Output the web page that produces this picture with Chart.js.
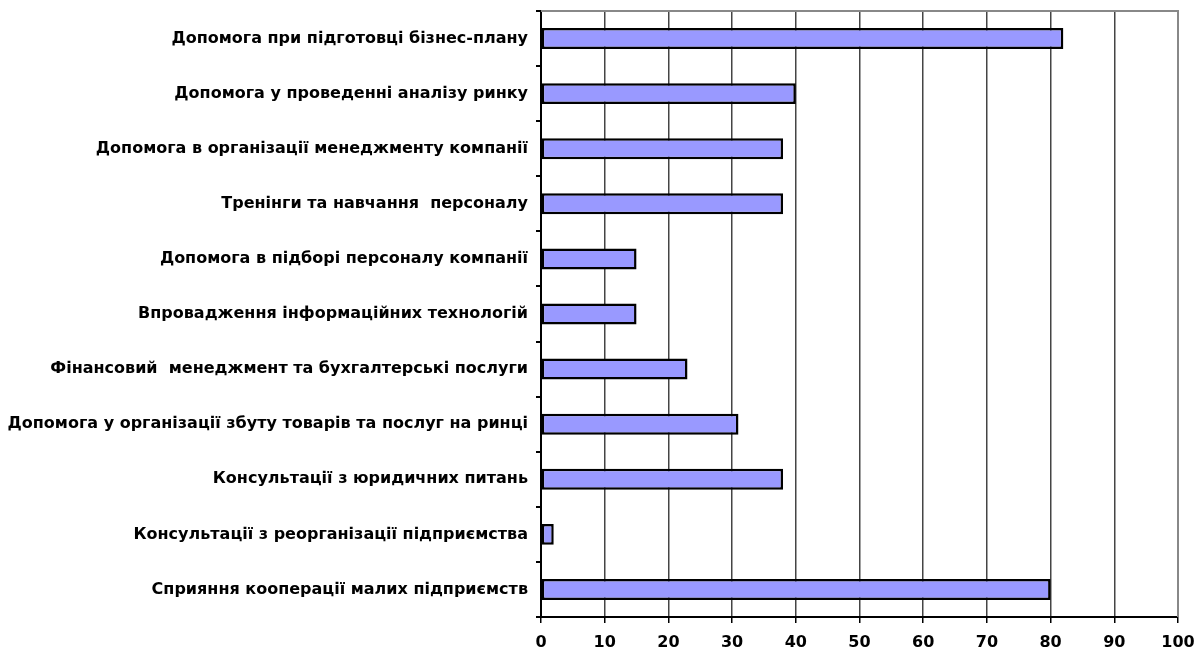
<!DOCTYPE html>
<html>
<head>
<meta charset="utf-8">
<script src="https://cdn.jsdelivr.net/npm/chart.js@4/dist/chart.umd.min.js"></script>
<style>
  html, body { margin: 0; padding: 0; background: #fff; }
  #chart { display: block; }
</style>
</head>
<body>
<canvas id="chart" width="1201" height="657"></canvas>
<script>
// categories, top to bottom
const categories = [
    'Допомога при підготовці бізнес-плану',
    'Допомога у проведенні аналізу ринку',
    'Допомога в організації менеджменту компанії',
    'Тренінги та навчання  персоналу',
    'Допомога в підборі персоналу компанії',
    'Впровадження інформаційних технологій',
    'Фінансовий  менеджмент та бухгалтерські послуги',
    'Допомога у організації збуту товарів та послуг на ринці',
    'Консультації з юридичних питань',
    'Консультації з реорганізації підприємства',
    'Сприяння кооперації малих підприємств'
];
const values = [82, 40, 38, 38, 15, 15, 23, 31, 38, 2, 80];
const xTicks = [0, 10, 20, 30, 40, 50, 60, 70, 80, 90, 100];

const labelFont = { family: 'DejaVu Sans, sans-serif', size: 16, weight: 'bold' };

// grey frame on top and right of the plot area
const frame = {
    id: 'frame',
    afterDraw(chart) {
        const { ctx, chartArea: a } = chart;
        ctx.save();
        ctx.strokeStyle = '#888';
        ctx.lineWidth = 2;
        ctx.beginPath();
        ctx.moveTo(a.left, a.top);
        ctx.lineTo(a.right, a.top);
        ctx.lineTo(a.right, a.bottom);
        ctx.stroke();
        ctx.restore();
    }
};

new Chart(document.getElementById('chart'), {
    type: 'bar',
    data: {
        labels: categories,
        datasets: [{
            data: values,
            backgroundColor: '#9999ff',
            borderColor: '#000',
            borderWidth: 2.5,
            borderSkipped: false,
            categoryPercentage: 1,
            barPercentage: 0.38
        }]
    },
    options: {
        indexAxis: 'y',
        responsive: false,
        animation: false,
        layout: { padding: { top: 11, right: 23, left: 0, bottom: 0 } },
        plugins: { legend: { display: false }, tooltip: { enabled: false } },
        scales: {
            x: {
                min: 0,
                max: 100,
                afterBuildTicks: s => { s.ticks = xTicks.map(v => ({ value: v })); },
                afterFit: s => { s.height = 40; s.paddingLeft = 0; s.paddingRight = 0; },
                grid: { color: '#444', lineWidth: 1.5, tickLength: 6, tickColor: '#000' },
                border: { color: '#000', width: 2 },
                ticks: { color: '#000', font: labelFont, padding: 10 }
            },
            y: {
                afterFit: s => { s.width = 541; s.paddingTop = 0; s.paddingBottom = 0; },
                grid: { drawOnChartArea: false, tickLength: 5, tickColor: '#000', lineWidth: 2, offset: true },
                border: { color: '#000', width: 2 },
                ticks: { color: '#000', font: labelFont, padding: 8 }
            }
        }
    },
    plugins: [frame]
});
</script>
</body>
</html>
